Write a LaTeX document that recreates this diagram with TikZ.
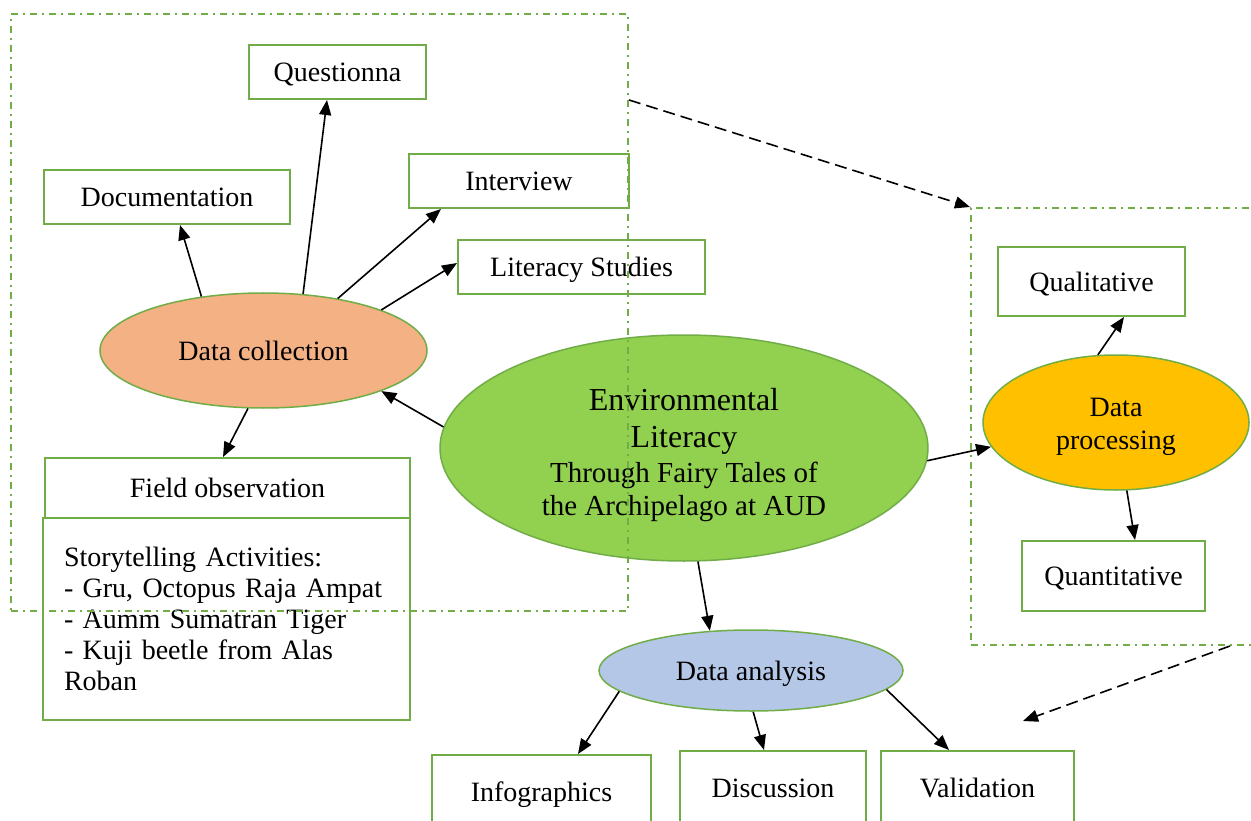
\documentclass[tikz,border=0pt]{standalone}
\usepackage{fontspec}
\setmainfont{Liberation Serif}
\usetikzlibrary{shapes.geometric,arrows.meta}
\definecolor{boxgreen}{RGB}{112,173,71}
\definecolor{collorange}{RGB}{244,177,131}
\definecolor{envgreen}{RGB}{146,208,80}
\definecolor{procgold}{RGB}{255,192,0}
\definecolor{analblue}{RGB}{180,199,231}
\tikzset{
  txt/.style={font=\fontsize{28}{31}\selectfont},
  boxbase/.style={txt, draw=boxgreen, line width=2pt, fill=white, inner sep=0pt},
  box/.style={boxbase, text height=19pt, text depth=0pt},
  oval/.style={txt, ellipse, draw=boxgreen, line width=1.5pt, inner sep=0pt, align=center},
  arr/.style={line width=1.6pt, -{Triangle[length=15pt,width=12pt]}},
  darr/.style={arr, dash pattern=on 12pt off 6pt},
  frame/.style={draw=boxgreen, line width=2pt, dash pattern=on 7pt off 5pt on 2pt off 5pt, inner sep=0pt}
}
\begin{document}
\begin{tikzpicture}[x=1pt,y=-1pt]
\useasboundingbox (0,0) rectangle (1251,821);
\clip (0,0) rectangle (1251,821);
\fill[white] (0,0) rectangle (1251,821);

% boxes
\node[box, minimum width=177pt, minimum height=54pt] (quest) at (337.5,72) {Questionna};
\node[box, minimum width=246pt, minimum height=54pt] (doc) at (167,197) {Documentation};
\node[box, minimum width=220pt, minimum height=54pt] (intv) at (519,181) {Interview};
\node[box, minimum width=247pt, minimum height=54pt] (lit) at (581.5,267) {Literacy Studies};
\node[box, minimum width=365pt, minimum height=60pt] (field) at (227.5,488) {Field observation};
\node[boxbase, minimum width=367pt, minimum height=202pt, text width=325pt, inner xsep=21pt, align=left] (story) at (226.5,619)
  {Storytelling Activities:\\- Gru, Octopus Raja Ampat\\- Aumm Sumatran Tiger\\- Kuji beetle from Alas\\Roban};
\node[box, minimum width=187pt, minimum height=69pt] (qual) at (1091.5,281.5) {Qualitative};
\node[box, minimum width=183pt, minimum height=70pt] (quant) at (1113.5,576) {Quantitative};
\node[box, minimum width=219pt, minimum height=74pt] (info) at (541.5,792) {Infographics};
\node[box, minimum width=186pt, minimum height=74pt] (disc) at (773,788) {Discussion};
\node[box, minimum width=193pt, minimum height=74pt] (valid) at (977.5,788) {Validation};

% ellipses
\node[oval, fill=collorange, minimum width=327pt, minimum height=115pt, text height=19pt, text depth=0pt] (dc) at (263.5,350.5) {Data collection};
\node[oval, fill=envgreen, minimum width=488pt, minimum height=226pt] (env) at (684,448) {};
\node[align=center, inner sep=0pt, font=\fontsize{29}{35}\selectfont] (envtext) at (684,455)
  {{\fontsize{32}{35}\selectfont Environmental}\\[2pt]{\fontsize{32}{35}\selectfont Literacy}\\[0pt]Through Fairy Tales of\\[-2pt]the Archipelago at AUD};
\node[oval, fill=procgold, minimum width=266pt, minimum height=135pt] (dp) at (1116,422.5) {};
\node[align=center, inner sep=0pt, txt] (dptext) at (1116,427) {Data\\[2pt]processing};
\node[oval, fill=analblue, minimum width=304pt, minimum height=81pt, text height=19pt, text depth=0pt] (da) at (751,670.5) {Data analysis};

% arrows
\draw[arr] (dc.139) -- ([xshift=13pt]doc.south);
\draw[arr] (dc.55.6) -- ([xshift=-10.5pt]quest.south);
\draw[arr] (dc.35.8) -- ([xshift=-78pt]intv.south);
\draw[arr] (dc.19.1) -- ([yshift=4pt]lit.west);
\draw[arr] (env.175.2) -- (dc.341.7);
\draw[arr] (dc.255) -- ([xshift=-4.5pt]field.north);
\draw[arr] (env.357.9) -- (dp.191.3);
\draw[arr] (dp.105) -- ([xshift=32.5pt]qual.south);
\draw[arr] (dp.279.3) -- ([xshift=21.5pt]quant.north);
\draw[arr] (env.277) -- (da.136.4);
\draw[arr] (da.189.9) -- ([xshift=36.5pt]info.north);
\draw[arr] (da.273) -- ([xshift=-9pt]disc.north);
\draw[arr] (da.352.2) -- ([xshift=-28.5pt]valid.north);

% dash-dot frames
\node[frame, minimum width=617pt, minimum height=597pt] (box1) at (319.5,312.5) {};
\node[frame, minimum width=291pt, minimum height=437pt] (box2) at (1116.5,426.5) {};
\coordinate (dend) at (1023,721);

% dashed arrows
\draw[darr] ([yshift=212.5pt]box1.east) -- (box2.north west);
\draw[darr] ([xshift=113.5pt]box2.south) -- (dend);
\end{tikzpicture}
\end{document}
